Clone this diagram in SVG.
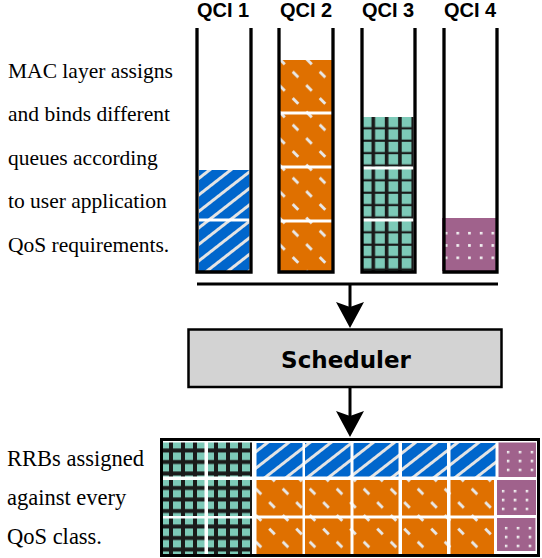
<svg xmlns="http://www.w3.org/2000/svg" width="542" height="558" viewBox="0 0 542 558">
<style>
.wall{fill:none;stroke:#000;stroke-width:3.3;stroke-linejoin:miter}
.sep{stroke:#fff;stroke-width:3}
.qci{font-family:"Liberation Sans",Arial,sans-serif;font-weight:bold;font-size:20px;text-anchor:middle;fill:#000}
.note{font-family:"Liberation Serif","Times New Roman",serif;font-size:21.5px;fill:#000}
.note2{font-family:"Liberation Serif","Times New Roman",serif;font-size:22.5px;fill:#000}
.conn{stroke:#000;stroke-width:3;fill:none}
.blue{fill:url(#hatch)}
.orange{fill:url(#dash)}
.purple{fill:#a0628c}
.sched{fill:#d3d3d3;stroke:#000;stroke-width:2.5}
.schedt{font-family:"DejaVu Sans",Verdana,sans-serif;font-weight:bold;font-size:23px;text-anchor:middle;fill:#000}
</style>
<defs>
<pattern id="hatch" patternUnits="userSpaceOnUse" width="13" height="13" patternTransform="rotate(-38)">
<rect width="13" height="13" fill="#0066cc"/>
<line x1="-1" y1="6.5" x2="14" y2="6.5" stroke="#e4e4e4" stroke-width="3"/>
</pattern>
<pattern id="dash" patternUnits="userSpaceOnUse" x="-6" y="-6" width="27" height="26.5">
<rect width="27" height="26.5" fill="#df7000"/>
<path d="M5.2,4.7 L10.8,10.3 M18.7,17.7 L24.3,23.3" stroke="#e8e8e8" stroke-width="3"/>
</pattern>
<pattern id="gridT" patternUnits="userSpaceOnUse" width="13.3" height="12.4">
<rect width="13.3" height="12.4" fill="#7dcab8"/>
<rect x="8.5" width="3.6" height="12.4" fill="#1a1a1a"/>
<rect y="10.2" width="13.3" height="3.6" fill="#1a1a1a"/>
</pattern>
<pattern id="gridB" patternUnits="userSpaceOnUse" width="12" height="11.5">
<rect width="12" height="11.5" fill="#7dcab8"/>
<rect x="6" width="4" height="11.5" fill="#1a1a1a"/>
<rect y="6" width="12" height="4" fill="#1a1a1a"/>
</pattern>
<pattern id="dotsT" patternUnits="userSpaceOnUse" width="11.7" height="12.4">
<rect width="2.7" height="2.7" fill="#f2f2f2"/>
</pattern>
<pattern id="dotsB" patternUnits="userSpaceOnUse" width="12" height="9">
<rect width="2.6" height="2.6" fill="#f2f2f2"/>
</pattern>
<marker id="ah" markerUnits="userSpaceOnUse" viewBox="0 0 26 28" markerWidth="26" markerHeight="28" refX="6" refY="14" orient="auto">
<path d="M0,0 L26,14 L0,28 L5,14 Z" fill="#000"/>
</marker>
</defs>

<g id="text-mac">
<text class="note" x="8" y="78">MAC layer assigns</text>
<text class="note" x="8" y="121.4">and binds different</text>
<text class="note" x="8" y="164.8">queues according</text>
<text class="note" x="8" y="208.2">to user application</text>
<text class="note" x="8" y="251.6">QoS requirements.</text>
</g>

<g id="qci1">
<text class="qci" x="223" y="17">QCI 1</text>
<rect class="blue" transform="translate(199,170)" width="50.5" height="101"/>
<line class="sep" x1="199" y1="220" x2="249.5" y2="220"/>
<path class="wall" d="M197,28 V272 H251 V28"/>
</g>

<g id="qci2">
<text class="qci" x="306" y="17">QCI 2</text>
<rect class="orange" transform="translate(280,60)" width="52" height="211"/>
<line class="sep" x1="280" y1="113" x2="332" y2="113"/>
<line class="sep" x1="280" y1="167" x2="332" y2="167"/>
<line class="sep" x1="280" y1="221" x2="332" y2="221"/>
<path class="wall" d="M279,28 V272 H333 V28"/>
</g>

<g id="qci3">
<text class="qci" x="388" y="17">QCI 3</text>
<rect fill="url(#gridT)" transform="translate(363,117)" width="50.5" height="50.5"/>
<rect fill="url(#gridT)" transform="translate(363,169)" width="50.5" height="50.5"/>
<rect fill="url(#gridT)" transform="translate(363,221)" width="50.5" height="50"/>
<line class="sep" x1="363" y1="168" x2="413.5" y2="168"/>
<line class="sep" x1="363" y1="220" x2="413.5" y2="220"/>
<path class="wall" d="M362,28 V272 H415 V28"/>
</g>

<g id="qci4">
<text class="qci" x="470" y="17">QCI 4</text>
<rect class="purple" x="442" y="218" width="54" height="53"/>
<rect fill="url(#dotsT)" transform="translate(444.7,231.7)" width="50" height="28"/>
<path class="wall" d="M444,28 V272 H497 V28"/>
</g>

<g id="scheduler">
<rect class="sched" x="188.5" y="329.5" width="313" height="57.5"/>
<text class="schedt" x="346" y="368">Scheduler</text>
</g>

<g id="text-rrb">
<text class="note2" x="7" y="466">RRBs assigned</text>
<text class="note2" x="7" y="505">against every</text>
<text class="note2" x="7" y="544">QoS class.</text>
</g>

<g id="rrb-grid">
<rect x="161.5" y="439.5" width="377" height="116" fill="#fff" stroke="#000" stroke-width="3"/>
<rect fill="url(#gridB)" transform="translate(163,442.5)" width="41.5" height="34"/>
<rect fill="url(#gridB)" transform="translate(163,480)" width="41.5" height="36"/>
<rect fill="url(#gridB)" transform="translate(163,518.5)" width="41.5" height="35.5"/>
<rect fill="url(#gridB)" transform="translate(208,442.5)" width="44" height="34"/>
<rect fill="url(#gridB)" transform="translate(208,480)" width="44" height="36"/>
<rect fill="url(#gridB)" transform="translate(208,518.5)" width="44" height="35.5"/>
<rect class="blue" x="256.5" y="443" width="46" height="33.5"/>
<rect class="blue" x="305" y="443" width="45.5" height="33.5"/>
<rect class="blue" x="353.5" y="443" width="45" height="33.5"/>
<rect class="blue" x="402" y="443" width="45" height="33.5"/>
<rect class="blue" x="450.5" y="443" width="45" height="33.5"/>
<rect class="orange" x="256.5" y="480" width="46" height="35.5"/>
<rect class="orange" x="305" y="480" width="45.5" height="35.5"/>
<rect class="orange" x="353.5" y="480" width="45" height="35.5"/>
<rect class="orange" x="402" y="480" width="45" height="35.5"/>
<rect class="orange" x="450.5" y="480" width="43.5" height="35.5"/>
<rect class="orange" x="256.5" y="518.5" width="46" height="35.5"/>
<rect class="orange" x="305" y="518.5" width="45.5" height="35.5"/>
<rect class="orange" x="353.5" y="518.5" width="45" height="35.5"/>
<rect class="orange" x="402" y="518.5" width="45" height="35.5"/>
<rect class="orange" x="450.5" y="518.5" width="43.5" height="35.5"/>
<rect class="purple" x="498.5" y="442.5" width="37.5" height="34.5"/>
<rect class="purple" x="497" y="480" width="39" height="35"/>
<rect class="purple" x="497" y="518" width="38.5" height="33"/>
<rect fill="url(#dotsB)" transform="translate(506.7,450.7)" width="27" height="21"/>
<rect fill="url(#dotsB)" transform="translate(501.7,489.7)" width="27" height="21"/>
<rect fill="url(#dotsB)" transform="translate(504.7,526.7)" width="27" height="21"/>
</g>

<g id="connectors">
<line class="conn" x1="197" y1="284" x2="498" y2="284"/>
<line class="conn" x1="350" y1="284" x2="350" y2="308" marker-end="url(#ah)"/>
<line class="conn" x1="350" y1="387" x2="350" y2="417" marker-end="url(#ah)"/>
</g>
</svg>
